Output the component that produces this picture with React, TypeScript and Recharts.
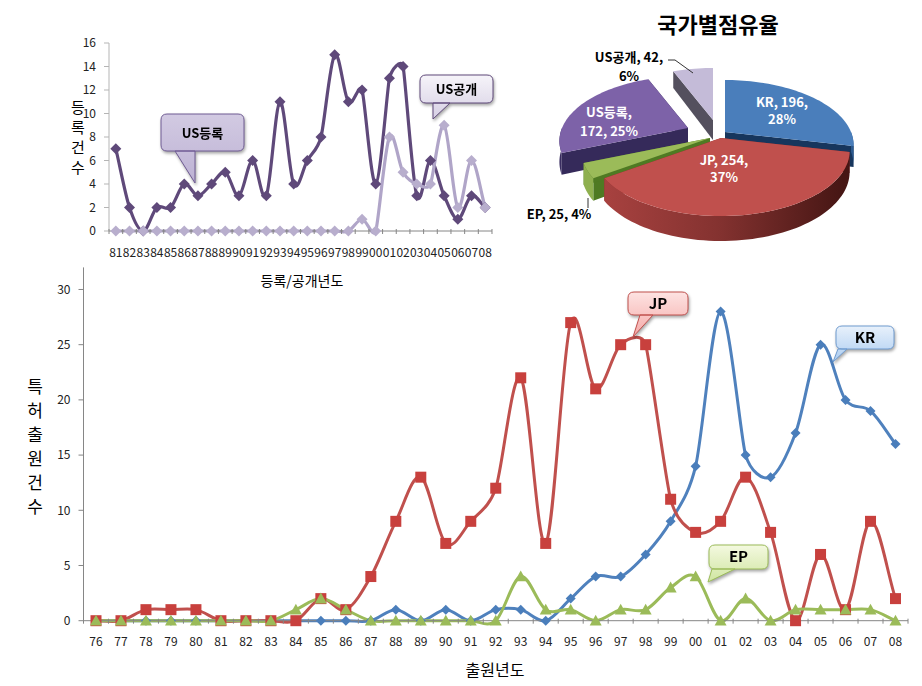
import { LineChart, Line, XAxis, YAxis, PieChart, Pie } from 'recharts';

const registerYears = ['81', '82', '83', '84', '85', '86', '87', '88', '89', '90', '91', '92', '93', '94', '95', '96', '97', '98', '99', '00', '01', '02', '03', '04', '05', '06', '07', '08'];
const usRegistered = [7, 2, 0, 2, 2, 4, 3, 4, 5, 3, 6, 3, 11, 4, 6, 8, 15, 11, 12, 4, 13, 14, 3, 6, 3, 1, 3, 2];
const usPublished = [0, 0, 0, 0, 0, 0, 0, 0, 0, 0, 0, 0, 0, 0, 0, 0, 0, 0, 1, 0, 8, 5, 4, 4, 9, 2, 6, 2];

const filingYears = ['76', '77', '78', '79', '80', '81', '82', '83', '84', '85', '86', '87', '88', '89', '90', '91', '92', '93', '94', '95', '96', '97', '98', '99', '00', '01', '02', '03', '04', '05', '06', '07', '08'];
const krFilings = [0, 0, 0, 0, 0, 0, 0, 0, 0, 0, 0, 0, 1, 0, 1, 0, 1, 1, 0, 2, 4, 4, 6, 9, 14, 28, 15, 13, 17, 25, 20, 19, 16];
const jpFilings = [0, 0, 1, 1, 1, 0, 0, 0, 0, 2, 1, 4, 9, 13, 7, 9, 12, 22, 7, 27, 21, 25, 25, 11, 8, 9, 13, 8, 0, 6, 1, 9, 2];
const epFilings = [0, 0, 0, 0, 0, 0, 0, 0, 1, 2, 1, 0, 0, 0, 0, 0, 0, 4, 1, 1, 0, 1, 1, 3, 4, 0, 2, 0, 1, 1, 1, 1, 0];

const shareNames = ['KR', 'JP', 'EP', 'US등록', 'US공개'];
const shareValues = [196, 254, 25, 172, 42];

const registerData = registerYears.map((year, i) => ({ year, registered: usRegistered[i], published: usPublished[i] }));
const filingData = filingYears.map((year, i) => ({ year, kr: krFilings[i], jp: jpFilings[i], ep: epFilings[i] }));
const shareData = shareNames.map((name, i) => ({ name, value: shareValues[i] }));

const FONT = '"Noto Sans CJK KR", "Noto Sans", sans-serif';

// Excel style smoothed line: handles get shorter next to a short segment
const smoothCurve = (context: any) => {
  let pts: number[][] = [];
  const dist = (a: number[], b: number[]) => Math.hypot(a[0] - b[0], a[1] - b[1]);
  const handle = (prev: number[], cur: number[], next: number[]) => {
    const dx = next[0] - prev[0];
    const dy = next[1] - prev[1];
    const d02 = Math.hypot(dx, dy) || 1;
    const d01 = dist(prev, cur);
    const d12 = dist(cur, next);
    let f = 1 / 6;
    if (!(d02 / 6 < d12 / 2 && d02 / 6 < d01 / 2)) f = Math.min(d01, d12) / 2 / d02;
    return [dx * f, dy * f];
  };
  return {
    areaStart() {},
    areaEnd() {},
    lineStart() {
      pts = [];
    },
    point(x: number, y: number) {
      pts.push([+x, +y]);
    },
    lineEnd() {
      pts.forEach((p, i) => {
        if (i === 0) {
          context.moveTo(p[0], p[1]);
          return;
        }
        const p1 = pts[i - 1];
        const h1 = i > 1 ? handle(pts[i - 2], p1, p) : [(p[0] - p1[0]) / 3, (p[1] - p1[1]) / 3];
        const h2 = i < pts.length - 1 ? handle(p1, p, pts[i + 1]) : [(p[0] - p1[0]) / 3, (p[1] - p1[1]) / 3];
        context.bezierCurveTo(p1[0] + h1[0], p1[1] + h1[1], p[0] - h2[0], p[1] - h2[1], p[0], p[1]);
      });
    }
  };
};

const diamond = (fill: string, r: number) => (props: any) => (
  <path
    key={props.index}
    d={`M${props.cx},${props.cy - r}L${props.cx + r},${props.cy}L${props.cx},${props.cy + r}L${props.cx - r},${props.cy}Z`}
    fill={fill}
  />
);
const square = (fill: string, r: number) => (props: any) => (
  <rect key={props.index} x={props.cx - r} y={props.cy - r} width={r * 2} height={r * 2} fill={fill} />
);
const triangle = (fill: string, r: number) => (props: any) => (
  <path
    key={props.index}
    d={`M${props.cx},${props.cy - r}L${props.cx + r},${props.cy + r * 0.8}L${props.cx - r},${props.cy + r * 0.8}Z`}
    fill={fill}
  />
);

// ticks sit between the categories, labels on them
const yearTick = (axisY: number, step: number, labelY: number, last: string) => (props: any) => {
  const { x, payload } = props;
  return (
    <g>
      <line x1={x - step / 2} x2={x - step / 2} y1={axisY - 2} y2={axisY + 3} stroke="#868686" />
      {payload.value === last && <line x1={x + step / 2} x2={x + step / 2} y1={axisY - 2} y2={axisY + 3} stroke="#868686" />}
      <text x={x} y={labelY} textAnchor="middle" fontSize={12} fontFamily={FONT} fill="#222">
        {payload.value}
      </text>
    </g>
  );
};

// 3D pie projection
const PIE_LEFT = 520;
const PIE_TOP = 36;
const RX = 126;
const RY = 62.4;
const PERSPECTIVE = 0.2;
const DEPTH = 20;
const sliceLook: Record<string, any> = {
  KR: { dx: 1, dy: 0, top: '#4a7ebb', cut: '#17365d', rim: '#2c5a8f', text: '#fff', firstLine: 2, places: [[782, 107], [782, 124]] },
  JP: { dx: -3, dy: 6, top: '#c0504d', cut: '#7d2b29', rim: 'url(#jpRim)', text: '#fff', firstLine: 2, places: [[724, 165], [724, 182]] },
  EP: { dx: -14, dy: 6, top: '#9bbb59', cut: '#4f7a23', rim: '#8fb04f', text: '#000', firstLine: 3, places: [[559, 219]] },
  US등록: { dx: -36, dy: -4, top: '#7d62a8', cut: '#352a5a', rim: '#3a2d61', text: '#fff', firstLine: 1, places: [[609, 117], [609, 136]] },
  US공개: { dx: -11, dy: -12, top: '#c4bbd8', cut: '#54505e', rim: '#54505e', text: '#000', firstLine: 2, places: [[629, 62], [629, 81]] }
};

const project = (theta: number) => {
  const rad = (theta * Math.PI) / 180;
  const X = Math.sin(rad);
  const Y = -Math.cos(rad);
  const s = 1 / (1 - PERSPECTIVE * Y);
  return { x: X * RX * s, y: Y * RY * s, d: DEPTH * s };
};

const PieSlice = (props: any) => {
  const { cx, cy, startAngle, endAngle, payload, percent } = props;
  const look = sliceLook[payload.name];
  const tipX = cx + look.dx;
  const tipY = cy + look.dy;
  const from = 90 - startAngle;
  const to = 90 - endAngle;
  const rim: any[] = [];
  for (let t = from; t < to; t += 2) rim.push(project(t));
  rim.push(project(to));
  const pt = (p: any, down = false) => `${tipX + p.x},${tipY + p.y + (down ? p.d : 0)}`;
  const cutWall = (p: any) => `M${tipX},${tipY}L${pt(p)}L${pt(p, true)}L${tipX},${tipY + DEPTH}Z`;

  const rimFront = rim.filter((p) => p.y > -2);
  const rimWall =
    rimFront.length > 1
      ? `M${rimFront.map((p) => pt(p)).join('L')}L${[...rimFront].reverse().map((p) => pt(p, true)).join('L')}Z`
      : '';

  const words = `${payload.name}, ${payload.value}, ${Math.round(percent * 100)}%`.split(' ');
  const textLines = [words.slice(0, look.firstLine).join(' '), words.slice(look.firstLine).join(' ')].filter(Boolean);

  return (
    <g>
      <defs>
        <linearGradient id="jpRim" gradientUnits="userSpaceOnUse" x1={tipX - 120} x2={tipX + 130} y1="0" y2="0">
          <stop offset="0" stopColor="#ab4341" />
          <stop offset="0.5" stopColor="#843230" />
          <stop offset="1" stopColor="#461614" />
        </linearGradient>
      </defs>
      <path d={cutWall(rim[0])} fill={look.cut} />
      <path d={cutWall(rim[rim.length - 1])} fill={look.cut} />
      {rimWall && <path d={rimWall} fill={look.rim} />}
      <path d={`M${tipX},${tipY}L${rim.map((p) => pt(p)).join('L')}Z`} fill={look.top} />
      {textLines.map((line, i) => (
        <text
          key={line}
          x={look.places[i][0] - PIE_LEFT}
          y={look.places[i][1] - PIE_TOP}
          textAnchor="middle"
          fontSize={13}
          fontWeight={700}
          fontFamily={FONT}
          fill={look.text}
        >
          {line}
        </text>
      ))}
    </g>
  );
};

const drawOrder = [4, 0, 3, 2, 1];

const Callout = ({ id, x, y, w, h, tail, label, from, to, line, size }: any) => (
  <g style={{ filter: 'drop-shadow(1px 2px 1.5px rgba(0,0,0,0.35))' }}>
    <defs>
      <linearGradient id={id} x1="0" x2="0" y1="0" y2="1">
        <stop offset="0" stopColor={from} />
        <stop offset="1" stopColor={to} />
      </linearGradient>
    </defs>
    <path
      d={`M${x + 6},${y}H${x + w - 6}Q${x + w},${y} ${x + w},${y + 6}V${y + h - 6}Q${x + w},${y + h} ${x + w - 6},${y + h}H${tail[2]}L${tail[0]},${tail[1]}L${tail[3]},${y + h}H${x + 6}Q${x},${y + h} ${x},${y + h - 6}V${y + 6}Q${x},${y} ${x + 6},${y}Z`}
      fill={`url(#${id})`}
      stroke={line}
      strokeWidth={1}
    />
    <text x={x + w / 2} y={y + h / 2 + 5} textAnchor="middle" fontSize={size || 13} fontWeight={700} fontFamily={FONT} fill="#000">
      {label}
    </text>
  </g>
);

const VerticalText = ({ text, x, y, gap, size }: any) => (
  <g>
    {text.split('').map((ch: string, i: number) => (
      <text key={i} x={x} y={y + i * gap} textAnchor="middle" fontSize={size} fontFamily={FONT} fill="#000">
        {ch}
      </text>
    ))}
  </g>
);

const App = () => {
  return (
    <div style={{ position: 'absolute', left: 0, top: 0, width: 922, height: 686, background: '#fff', overflow: 'hidden' }}>
      <div style={{ position: 'absolute', left: 0, top: 0 }}>
        <LineChart width={520} height={270} data={registerData} margin={{ top: 43, right: 28, bottom: 0, left: 0 }}>
          <XAxis
            dataKey="year"
            height={39}
            interval={0}
            padding={{ left: 6.84, right: 6.84 }}
            tickLine={false}
            stroke="#868686"
            tick={yearTick(231, 13.67, 257, '08')}
          />
          <YAxis
            width={109}
            domain={[0, 16]}
            ticks={[0, 2, 4, 6, 8, 10, 12, 14, 16]}
            tickSize={5}
            tickMargin={8}
            stroke="#b5b5b5"
            tick={{ fontSize: 12, fontFamily: FONT, fill: '#222' }}
          />
          <Line type={smoothCurve as any} dataKey="registered" stroke="#5f497a" strokeWidth={3.2} dot={diamond('#5f497a', 5.5)} isAnimationActive={false} />
          <Line type={smoothCurve as any} dataKey="published" stroke="#b0a5c8" strokeWidth={3.2} dot={diamond('#b8aecd', 5.5)} isAnimationActive={false} />
        </LineChart>
      </div>

      <div style={{ position: 'absolute', left: 0, top: 260 }}>
        <LineChart width={922} height={426} data={filingData} margin={{ top: 7.4, right: 14, bottom: 0, left: 0 }}>
          <XAxis
            dataKey="year"
            height={65.3}
            interval={0}
            padding={{ left: 12.5, right: 12.5 }}
            tickLine={false}
            stroke="#868686"
            tick={yearTick(360.7, 25, 386, '08')}
          />
          <YAxis
            width={83.5}
            domain={[0, 32]}
            ticks={[0, 5, 10, 15, 20, 25, 30]}
            tickSize={5}
            tickMargin={8}
            stroke="#868686"
            tick={{ fontSize: 12, fontFamily: FONT, fill: '#222' }}
          />
          <Line type={smoothCurve as any} dataKey="kr" stroke="#4f81bd" strokeWidth={3} dot={diamond('#4a7ebb', 5)} isAnimationActive={false} />
          <Line type={smoothCurve as any} dataKey="jp" stroke="#c0504d" strokeWidth={3} dot={square('#c8403d', 5.5)} isAnimationActive={false} />
          <Line type={smoothCurve as any} dataKey="ep" stroke="#9bbb59" strokeWidth={3} dot={triangle('#9bbb59', 6)} isAnimationActive={false} />
        </LineChart>
      </div>

      <div style={{ position: 'absolute', left: PIE_LEFT, top: PIE_TOP }}>
        <PieChart width={400} height={224} margin={{ top: 0, right: 0, bottom: 0, left: 0 }}>
          {drawOrder.map((idx) => (
            <Pie
              key={idx}
              data={shareData}
              dataKey="value"
              nameKey="name"
              cx={724 - PIE_LEFT}
              cy={132 - PIE_TOP}
              outerRadius={80}
              startAngle={90}
              endAngle={-270}
              stroke="none"
              isAnimationActive={false}
              shape={(p: any) => (p.index === idx ? <PieSlice {...p} /> : <g />)}
            />
          ))}
        </PieChart>
      </div>

      <svg width={922} height={686} style={{ position: 'absolute', left: 0, top: 0, pointerEvents: 'none' }}>
        <text x={718} y={33} textAnchor="middle" fontSize={22} fontWeight={700} fontFamily={FONT} fill="#000">
          국가별점유율
        </text>
        <path d="M668,60H675L693,73" fill="none" stroke="#333" strokeWidth={1} />
        <path d="M588,198V208" fill="none" stroke="#333" strokeWidth={1} />

        <text x={302} y={286} textAnchor="middle" fontSize={14} fontFamily={FONT} fill="#000">
          등록/공개년도
        </text>
        <text x={495} y={676} textAnchor="middle" fontSize={16} fontFamily={FONT} fill="#000">
          출원년도
        </text>
        <VerticalText text="등록건수" x={78} y={113} gap={20} size={15} />
        <VerticalText text="특허출원건수" x={35} y={393} gap={24} size={17} />

        <Callout id="cUs1" x={161} y={114} w={83} h={37} tail={[195, 183, 175, 195]} label="US등록" from="#d2cae2" to="#bdb2d4" line="#6f5b93" />
        <Callout id="cUs2" x={420} y={75} w={73} h={28} tail={[433, 119, 433, 450]} label="US공개" from="#f6f4f9" to="#d6cfe4" line="#5f497a" />
        <Callout id="cJp" x={628} y={292} w={60} h={23} tail={[633, 337, 640, 653]} label="JP" from="#fde3e2" to="#f5a9a7" line="#c0504d" size={15} />
        <Callout id="cKr" x={836} y={326} w={58} h={23} tail={[833, 362, 838, 847]} label="KR" from="#e8f1fb" to="#abccf1" line="#6f9bcf" size={15} />
        <Callout id="cEp" x={709} y={545} w={59} h={24} tail={[708, 582, 712, 735]} label="EP" from="#f4f9e0" to="#cfe5a0" line="#9bbb59" size={15} />
      </svg>
    </div>
  );
};

export default App;
